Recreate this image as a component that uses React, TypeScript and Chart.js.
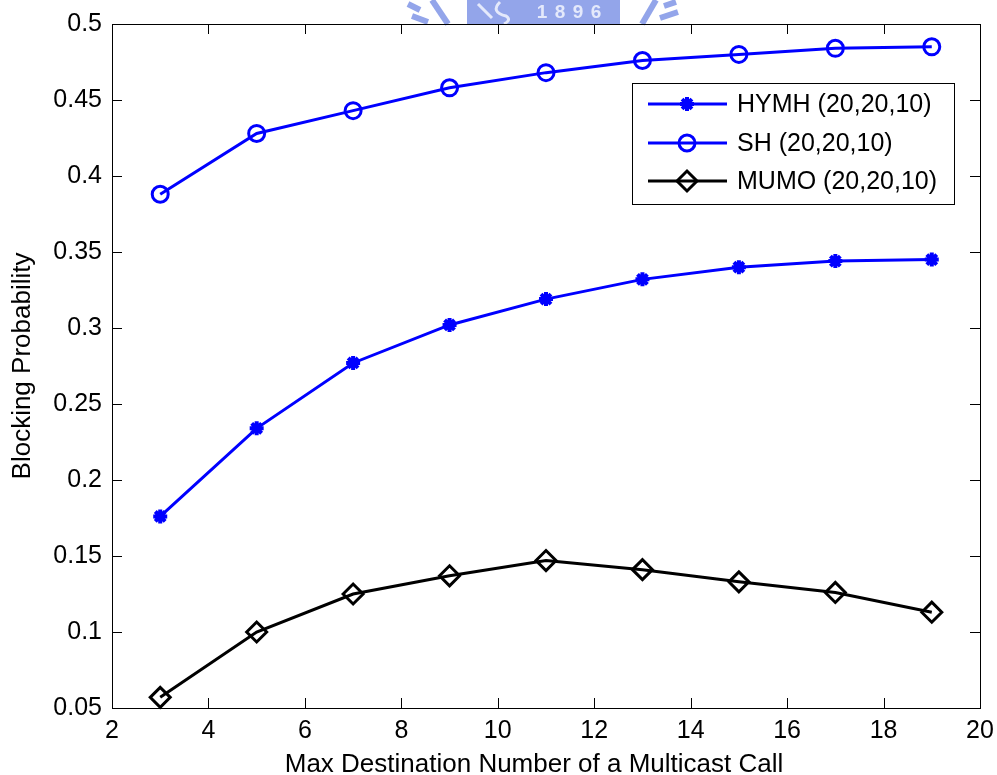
import React, { useEffect, useRef } from "react";
import { Chart, registerables } from "chart.js";
import { drawPoint } from "chart.js/helpers";

Chart.register(...registerables);

// Max destination number of a multicast call
const maxDestinations = [3, 5, 7, 9, 11, 13, 15, 17, 19];

// Blocking probability per scheme
const hymhValues = [0.176, 0.234, 0.277, 0.302, 0.319, 0.332, 0.340, 0.344, 0.345];
const shValues = [0.388, 0.428, 0.443, 0.458, 0.468, 0.476, 0.480, 0.484, 0.485];
const mumoValues = [0.057, 0.100, 0.125, 0.137, 0.147, 0.141, 0.133, 0.126, 0.113];

const seriesLabels = ["HYMH (20,20,10)", "SH (20,20,10)", "MUMO (20,20,10)"];

const xTitle = "Max Destination Number of a Multicast Call";
const yTitle = "Blocking Probability";
const bannerText = "1896";

const FONT = '"Liberation Sans", Arial, Helvetica, sans-serif';
const BLUE = "#0000ff";

// Light-blue banner behind the top of the figure
const bannerPlugin = {
  id: "banner",
  beforeDraw(chart: any) {
    const ctx = chart.ctx;
    ctx.save();
    const c = "#93a5ea";
    ctx.fillStyle = c;
    ctx.fillRect(467, 0, 153, 24);
    ctx.strokeStyle = c;
    ctx.lineWidth = 6;
    ctx.lineCap = "butt";
    // wing strokes
    const strokes = [
      [408, 4, 420, 10],
      [412, 16, 428, 22],
      [432, 0, 448, 24],
      [642, 24, 656, 0],
      [664, 6, 676, 2],
      [660, 18, 678, 12],
    ];
    strokes.forEach(([x1, y1, x2, y2]) => {
      ctx.beginPath();
      ctx.moveTo(x1, y1);
      ctx.lineTo(x2, y2);
      ctx.stroke();
    });
    ctx.strokeStyle = "#e4e9fb";
    ctx.lineWidth = 3;
    ctx.beginPath();
    ctx.moveTo(478, 4);
    ctx.lineTo(492, 18);
    ctx.moveTo(500, 2);
    ctx.quadraticCurveTo(490, 12, 506, 16);
    ctx.quadraticCurveTo(512, 20, 504, 24);
    ctx.stroke();
    ctx.fillStyle = "#e4e9fb";
    ctx.font = `bold 19px ${FONT}`;
    ctx.textBaseline = "middle";
    ctx.textAlign = "center";
    bannerText.split("").forEach((ch, i) => {
      ctx.fillText(ch, 542 + i * 18, 13);
    });
    ctx.restore();
  },
};

// Box frame with inward tick marks on all four sides
const frameTicksPlugin = {
  id: "frameTicks",
  beforeDatasetsDraw(chart: any) {
    const { ctx, chartArea } = chart;
    const { left, right, top, bottom } = chartArea;
    const xs = chart.scales.x;
    const ys = chart.scales.y;
    const len = 10;
    ctx.save();
    ctx.strokeStyle = "#000";
    ctx.lineWidth = 1;
    ctx.beginPath();
    xs.ticks.forEach((t: any) => {
      const px = Math.round(xs.getPixelForValue(t.value)) + 0.5;
      ctx.moveTo(px, bottom);
      ctx.lineTo(px, bottom - len);
      ctx.moveTo(px, top);
      ctx.lineTo(px, top + len);
    });
    ys.ticks.forEach((t: any) => {
      const py = Math.round(ys.getPixelForValue(t.value)) + 0.5;
      ctx.moveTo(left, py);
      ctx.lineTo(left + len, py);
      ctx.moveTo(right, py);
      ctx.lineTo(right - len, py);
    });
    ctx.stroke();
    ctx.strokeRect(Math.round(left) + 0.5, Math.round(top) + 0.5, Math.round(right - left), Math.round(bottom - top));
    ctx.restore();
  },
};

// X-axis caption below the tick labels
const xCaptionPlugin = {
  id: "xCaption",
  afterDraw(chart: any) {
    const ctx = chart.ctx;
    ctx.save();
    ctx.fillStyle = "#000";
    ctx.font = `26px ${FONT}`;
    ctx.textAlign = "center";
    ctx.textBaseline = "alphabetic";
    ctx.fillText(xTitle, 534, 772);
    ctx.restore();
  },
};

// Legend box with line + marker samples in the upper right of the plot
const lineLegendPlugin = {
  id: "lineLegend",
  afterDatasetsDraw(chart: any) {
    const ctx = chart.ctx;
    const boxX = 632;
    const boxY = 83;
    const boxW = 322;
    const boxH = 121;
    ctx.save();
    ctx.fillStyle = "#fff";
    ctx.fillRect(boxX, boxY, boxW, boxH);
    ctx.strokeStyle = "#000";
    ctx.lineWidth = 1;
    ctx.strokeRect(boxX + 0.5, boxY + 0.5, boxW, boxH);
    const rowY = [104, 143, 181];
    chart.data.datasets.forEach((ds: any, i: number) => {
      const y = rowY[i];
      ctx.strokeStyle = ds.borderColor;
      ctx.lineWidth = ds.borderWidth;
      ctx.beginPath();
      ctx.moveTo(648, y);
      ctx.lineTo(727, y);
      ctx.stroke();
      ctx.fillStyle = "rgba(0,0,0,0)";
      ctx.strokeStyle = ds.pointBorderColor;
      ctx.lineWidth = ds.pointBorderWidth;
      drawPoint(ctx, { pointStyle: ds.pointStyle, radius: ds.pointRadius, rotation: 0, borderWidth: ds.pointBorderWidth }, 687, y);
      ctx.fillStyle = "#000";
      ctx.font = `25px ${FONT}`;
      ctx.textBaseline = "middle";
      ctx.textAlign = "left";
      ctx.fillText(ds.label, 737, y + 1);
    });
    ctx.restore();
  },
};

export default function App() {
  const canvasRef = useRef<HTMLCanvasElement | null>(null);

  useEffect(() => {
    document.body.style.margin = "0";
    const canvas = canvasRef.current;
    if (!canvas) return;

    const toPoints = (vals: number[]) => maxDestinations.map((x, i) => ({ x, y: vals[i] }));

    const chart = new Chart(canvas, {
      type: "line",
      data: {
        datasets: [
          {
            label: seriesLabels[0],
            data: toPoints(hymhValues),
            borderColor: BLUE,
            borderWidth: 3,
            pointStyle: "star",
            pointRadius: 7,
            pointBorderWidth: 4,
            pointBorderColor: BLUE,
            pointBackgroundColor: "rgba(0,0,0,0)",
            tension: 0,
            clip: false,
          },
          {
            label: seriesLabels[1],
            data: toPoints(shValues),
            borderColor: BLUE,
            borderWidth: 3,
            pointStyle: "circle",
            pointRadius: 8,
            pointBorderWidth: 3,
            pointBorderColor: BLUE,
            pointBackgroundColor: "rgba(0,0,0,0)",
            tension: 0,
            clip: false,
          },
          {
            label: seriesLabels[2],
            data: toPoints(mumoValues),
            borderColor: "#000",
            borderWidth: 3,
            pointStyle: "rectRot",
            pointRadius: 10,
            pointBorderWidth: 3,
            pointBorderColor: "#000",
            pointBackgroundColor: "rgba(0,0,0,0)",
            tension: 0,
            clip: false,
          },
        ] as any,
      },
      options: {
        animation: false,
        responsive: false,
        maintainAspectRatio: false,
        layout: { padding: { top: 24, right: 17, left: 0, bottom: 0 } },
        plugins: {
          legend: { display: false },
          tooltip: { enabled: false },
        },
        scales: {
          x: {
            type: "linear",
            min: 2,
            max: 20,
            grid: { display: false, drawTicks: false },
            border: { display: false },
            ticks: {
              stepSize: 2,
              color: "#000",
              font: { family: FONT, size: 25, lineHeight: 1.2 },
              padding: 8,
              maxRotation: 0,
            },
            title: { display: false, text: xTitle },
            afterFit(scale: any) {
              scale.height = 67;
              scale.paddingLeft = 0;
              scale.paddingRight = 0;
            },
          },
          y: {
            type: "linear",
            min: 0.05,
            max: 0.5,
            grid: { display: false, drawTicks: false },
            border: { display: false },
            ticks: {
              stepSize: 0.05,
              color: "#000",
              font: { family: FONT, size: 25 },
              padding: 10,
              callback: (v: any) => String(Number(Number(v).toFixed(2))),
            },
            title: {
              display: true,
              text: yTitle,
              color: "#000",
              font: { family: FONT, size: 26, lineHeight: 1.2 },
              padding: { top: 7, bottom: 0 },
            },
            afterFit(scale: any) {
              scale.width = 112;
              scale.paddingTop = 0;
              scale.paddingBottom = 0;
            },
          },
        },
      } as any,
      plugins: [bannerPlugin, frameTicksPlugin, lineLegendPlugin, xCaptionPlugin],
    });

    return () => chart.destroy();
  }, []);

  return (
    <div style={{ width: 997, height: 775 }}>
      <canvas ref={canvasRef} width={997} height={775} style={{ display: "block" }} />
    </div>
  );
}
